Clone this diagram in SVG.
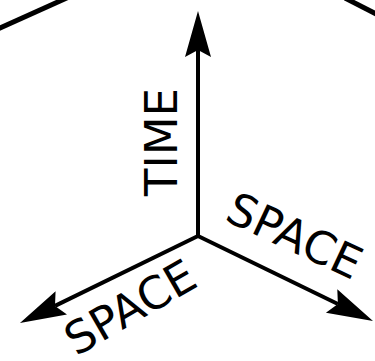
<svg xmlns="http://www.w3.org/2000/svg" width="375" height="361" viewBox="0 0 375 361">
<style>
.ax{fill:none;stroke:#000;stroke-width:4;stroke-linecap:butt;stroke-linejoin:miter}
.edge{fill:none;stroke:#000;stroke-width:5}
.lbl{font-family:"DejaVu Sans",sans-serif;font-size:45px;fill:#000;text-anchor:middle}
</style>
<defs>
<marker id="ah" markerUnits="userSpaceOnUse" orient="auto" markerWidth="60" markerHeight="40" refX="0" refY="0" viewBox="-10 -20 60 40" overflow="visible">
<path d="M39,0 L-7,-13 L0,0 L-7,13 Z" fill="#000"/>
</marker>
</defs>
<rect width="375" height="361" fill="#fff"/>
<g id="outline">
<path class="edge" d="M-10,32.5 L70,-3.5"/>
<path class="edge" d="M345,-2 L380,16"/>
</g>
<g id="connectors">
<path class="ax" d="M198,237 L198,50" marker-end="url(#ah)"/>
<path class="ax" d="M198,236 L55,305.9" marker-end="url(#ah)"/>
<path class="ax" d="M198,236 L337.9,304" marker-end="url(#ah)"/>
</g>
<g id="time"><text class="lbl" transform="translate(177,142) rotate(-90)">TIME</text></g>
<g id="space-right"><text class="lbl" transform="translate(288,250) rotate(25)">SPACE</text></g>
<g id="space-left"><text class="lbl" transform="translate(138,321) rotate(-30)">SPACE</text></g>
</svg>
